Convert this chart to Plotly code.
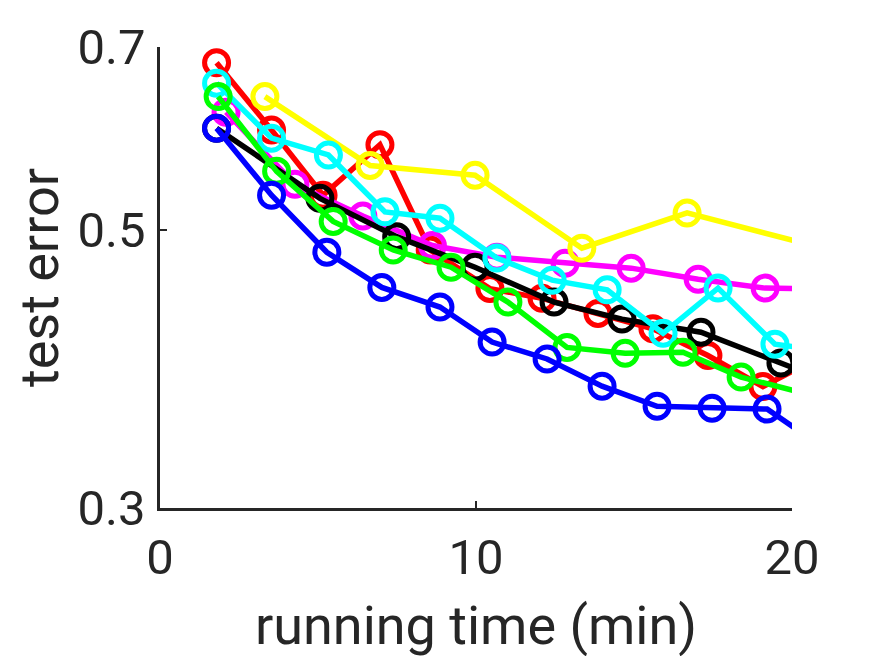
import plotly.graph_objects as go

# data (x in minutes, y = test error); last point of each series lies beyond the axis and is clipped
red_x = [1.79, 3.53, 5.16, 6.96, 8.55, 10.44, 12.09, 13.86, 15.60, 17.34, 19.08, 21.0]
red_y = [0.680, 0.601, 0.533, 0.585, 0.482, 0.449, 0.441, 0.429, 0.417, 0.397, 0.375, 0.3975]

magenta_x = [2.09, 4.27, 6.42, 8.62, 10.66, 12.82, 14.91, 17.03, 19.15, 21.3]
magenta_y = [0.621, 0.544, 0.513, 0.486, 0.4757, 0.4705, 0.4662, 0.4568, 0.4494, 0.4487]

black_x = [1.79, 5.06, 7.49, 9.97, 12.47, 14.62, 17.12, 19.65, 21.0]
black_y = [0.603, 0.530, 0.494, 0.467, 0.438, 0.4245, 0.4144, 0.3916, 0.3798]

yellow_x = [3.32, 6.65, 9.97, 13.35, 16.68, 21.0]
yellow_y = [0.639, 0.563, 0.553, 0.4836, 0.516, 0.4835]

cyan_x = [1.79, 3.53, 5.33, 7.12, 8.86, 10.66, 12.41, 14.15, 15.92, 17.66, 19.46, 21.2]
cyan_y = [0.655, 0.592, 0.574, 0.517, 0.511, 0.475, 0.456, 0.448, 0.4136, 0.4494, 0.4054, 0.400]

green_x = [1.84, 3.69, 5.48, 7.38, 9.21, 11.01, 12.88, 14.72, 16.55, 18.39, 21.0]
green_y = [0.639, 0.557, 0.508, 0.482, 0.467, 0.438, 0.403, 0.3987, 0.3994, 0.3816, 0.367]

blue_x = [1.79, 3.53, 5.28, 7.02, 8.86, 10.51, 12.25, 13.99, 15.73, 17.47, 19.21, 21.0]
blue_y = [0.603, 0.533, 0.480, 0.450, 0.434, 0.407, 0.3945, 0.3753, 0.3617, 0.3604, 0.3598, 0.3351]

x_ticks = [0, 10, 20]
y_ticks = [0.3, 0.5, 0.7]
y_tick_text = ["0.3", "0.5", "0.7"]

series = [
    (red_x, red_y, "#FF0000"),
    (magenta_x, magenta_y, "#FF00FF"),
    (black_x, black_y, "#000000"),
    (yellow_x, yellow_y, "#FFFF00"),
    (cyan_x, cyan_y, "#00FFFF"),
    (green_x, green_y, "#00FF00"),
    (blue_x, blue_y, "#0000FF"),
]

fig = go.Figure()
for xs, ys, col in series:
    fig.add_trace(go.Scatter(
        x=xs, y=ys, mode="lines+markers",
        line=dict(color=col, width=5.5),
        marker=dict(symbol="circle-open", size=24, color=col, line=dict(color=col, width=5)),
        cliponaxis=True, showlegend=False,
    ))

axis_color = "#262626"
fig.update_layout(
    width=875, height=656,
    margin=dict(l=152, r=91, t=39, b=156),
    paper_bgcolor="white", plot_bgcolor="white",
    font=dict(family="Roboto, Liberation Sans, Arial", color=axis_color),
    xaxis=dict(
        range=[0, 20], tickvals=x_ticks, ticks="inside", ticklen=7, tickwidth=2,
        tickcolor=axis_color, showline=True, linecolor=axis_color, linewidth=2.5,
        showgrid=False, zeroline=False, tickfont=dict(size=49, color=axis_color),
        ticklabelstandoff=4,
        title=dict(text="running time (min)", font=dict(size=54, color=axis_color), standoff=22),
    ),
    yaxis=dict(
        type="log", range=[-0.5229, -0.1549], tickvals=y_ticks, ticktext=y_tick_text,
        ticks="inside", ticklen=7, tickwidth=2, tickcolor=axis_color,
        showline=True, linecolor=axis_color, linewidth=2.5, showgrid=False, zeroline=False,
        tickfont=dict(size=49, color=axis_color), ticklabelstandoff=2,
        title=dict(text="test error", font=dict(size=54, color=axis_color), standoff=4),
    ),
)

fig.write_html("out.html")
